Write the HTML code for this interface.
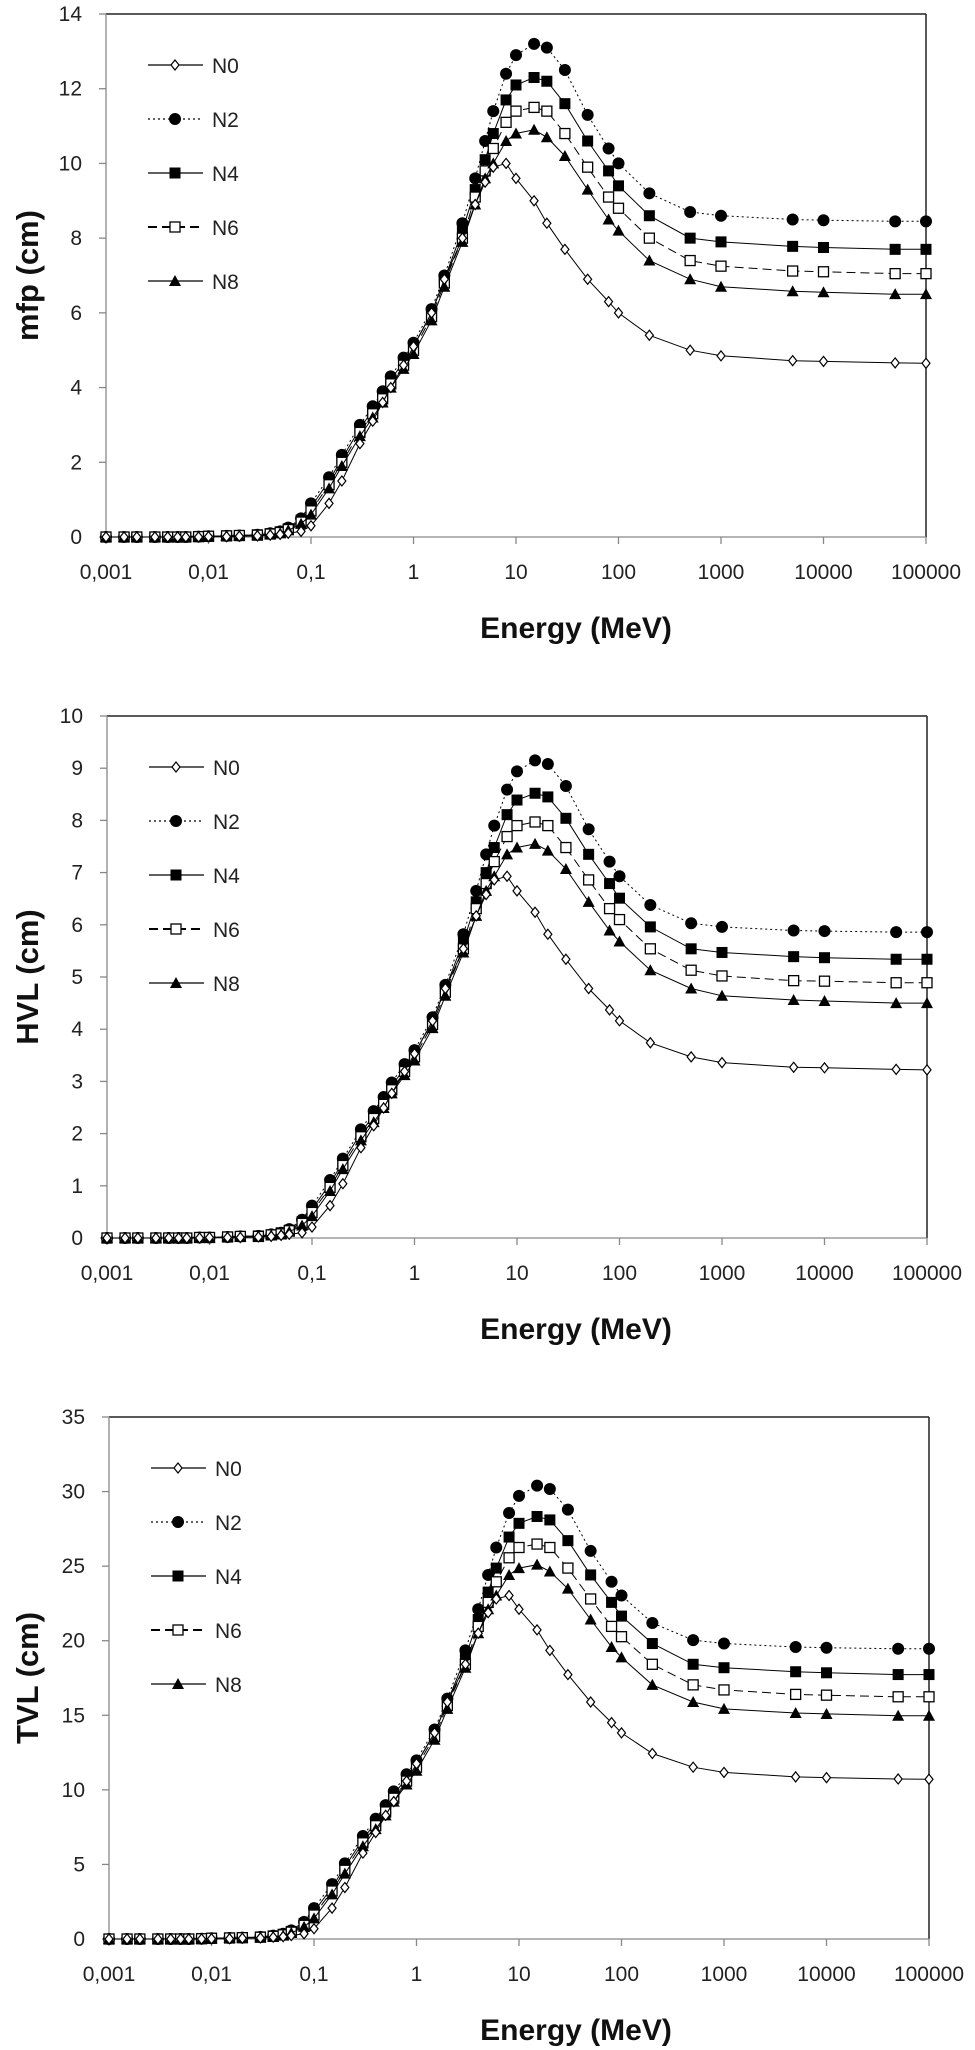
<!DOCTYPE html>
<html>
<head>
<meta charset="utf-8">
<style>
  html, body { margin: 0; padding: 0; background: #fff; }
  body { width: 975px; height: 2050px; overflow: hidden; }
  svg { display: block; font-family: "Liberation Sans", Arial, sans-serif; }
</style>
</head>
<body>
<svg id="fig" width="975" height="2050" viewBox="0 0 975 2050" xmlns="http://www.w3.org/2000/svg"></svg>
<script>
// ---- shared categories ----
const energies = [0.001,0.0015,0.002,0.003,0.004,0.005,0.006,0.008, 0.01,0.015,0.02,0.03,0.04,0.05,0.06,0.08, 0.1,0.15,0.2,0.3,0.4,0.5,0.6,0.8, 1,1.5,2,3,4,5,6,8, 10,15,20,30,50,80, 100,200,500, 1000,5000, 10000,50000,100000];
const xTickLabels = ["0,001","0,01","0,1","1","10","100","1000","10000","100000"];
const xTickValues = [0.001,0.01,0.1,1,10,100,1000,10000,100000];
const seriesNames = ["N0","N2","N4","N6","N8"];

// ---- chart 1: mfp ----
const mfpTicks = [0,2,4,6,8,10,12,14];
const mfpN0 = [0,0,0,0,0,0,0,0, 0.01,0.01,0.02,0.03,0.05,0.07,0.1,0.15, 0.3,0.9,1.5,2.5,3.1,3.6,4.0,4.6, 5.1,6.0,6.9,8.0,8.9,9.5,9.9,10.0, 9.6,9.0,8.4,7.7,6.9,6.3, 6.0,5.4,5.0, 4.85,4.72, 4.7,4.66,4.65];
const mfpN2 = [0,0,0,0,0,0,0,0.01, 0.02,0.03,0.04,0.06,0.1,0.15,0.25,0.5, 0.9,1.6,2.2,3.0,3.5,3.9,4.3,4.8, 5.2,6.1,7.0,8.4,9.6,10.6,11.4,12.4, 12.9,13.2,13.1,12.5,11.3,10.4, 10.0,9.2,8.7, 8.6,8.5, 8.48,8.45,8.45];
const mfpN4 = [0,0,0,0,0,0,0,0.01, 0.02,0.03,0.04,0.06,0.09,0.14,0.22,0.45, 0.8,1.5,2.1,2.9,3.4,3.8,4.2,4.7, 5.1,6.0,6.9,8.2,9.3,10.1,10.8,11.7, 12.1,12.3,12.2,11.6,10.6,9.8, 9.4,8.6,8.0, 7.9,7.78, 7.75,7.7,7.7];
const mfpN6 = [0,0,0,0,0,0,0,0.01, 0.02,0.03,0.04,0.05,0.08,0.12,0.2,0.4, 0.7,1.4,2.0,2.8,3.3,3.7,4.1,4.6, 5.0,5.9,6.8,8.0,9.1,9.8,10.4,11.1, 11.4,11.5,11.4,10.8,9.9,9.1, 8.8,8.0,7.4, 7.25,7.12, 7.1,7.05,7.05];
const mfpN8 = [0,0,0,0,0,0,0,0.01, 0.02,0.03,0.03,0.05,0.07,0.1,0.18,0.35, 0.6,1.3,1.9,2.7,3.2,3.6,4.0,4.5, 4.9,5.8,6.7,7.9,8.9,9.6,10.0,10.6, 10.8,10.9,10.7,10.2,9.3,8.5, 8.2,7.4,6.9, 6.7,6.58, 6.55,6.5,6.5];

// ---- chart 2: HVL ----
const hvlTicks = [0,1,2,3,4,5,6,7,8,9,10];
const hvlN0 = [0,0,0,0,0,0,0,0, 0.01,0.01,0.01,0.02,0.03,0.05,0.07,0.1, 0.21,0.62,1.04,1.73,2.15,2.49,2.77,3.19, 3.53,4.16,4.78,5.54,6.17,6.58,6.86,6.93, 6.65,6.24,5.82,5.34,4.78,4.37, 4.16,3.74,3.47, 3.36,3.27, 3.26,3.23,3.22];
const hvlN2 = [0,0,0,0,0,0,0,0.01, 0.01,0.02,0.03,0.04,0.07,0.1,0.17,0.35, 0.62,1.11,1.52,2.08,2.43,2.70,2.98,3.33, 3.60,4.23,4.85,5.82,6.65,7.35,7.90,8.59, 8.94,9.15,9.08,8.66,7.83,7.21, 6.93,6.38,6.03, 5.96,5.89, 5.88,5.86,5.86];
const hvlN4 = [0,0,0,0,0,0,0,0.01, 0.01,0.02,0.03,0.04,0.06,0.1,0.15,0.31, 0.55,1.04,1.46,2.01,2.36,2.63,2.91,3.26, 3.53,4.16,4.78,5.68,6.44,7.0,7.48,8.11, 8.39,8.52,8.45,8.04,7.35,6.79, 6.51,5.96,5.54, 5.47,5.39, 5.37,5.34,5.34];
const hvlN6 = [0,0,0,0,0,0,0,0.01, 0.01,0.02,0.03,0.03,0.06,0.08,0.14,0.28, 0.49,0.97,1.39,1.94,2.29,2.56,2.84,3.19, 3.47,4.09,4.71,5.54,6.31,6.79,7.21,7.69, 7.90,7.97,7.90,7.48,6.86,6.31, 6.1,5.54,5.13, 5.02,4.93, 4.92,4.89,4.89];
const hvlN8 = [0,0,0,0,0,0,0,0.01, 0.01,0.02,0.02,0.03,0.05,0.07,0.12,0.24, 0.42,0.9,1.32,1.87,2.22,2.49,2.77,3.12, 3.4,4.02,4.64,5.47,6.17,6.65,6.93,7.35, 7.48,7.55,7.42,7.07,6.44,5.89, 5.68,5.13,4.78, 4.64,4.56, 4.54,4.5,4.5];

// ---- chart 3: TVL ----
const tvlTicks = [0,5,10,15,20,25,30,35];
const tvlN0 = [0,0,0,0,0,0,0,0, 0.02,0.02,0.05,0.07,0.12,0.16,0.23,0.35, 0.69,2.07,3.45,5.76,7.14,8.29,9.21,10.59, 11.75,13.82,15.89,18.42,20.5,21.88,22.8,23.03, 22.11,20.73,19.35,17.73,15.89,14.51, 13.82,12.44,11.52, 11.17,10.87, 10.82,10.73,10.71];
const tvlN2 = [0,0,0,0,0,0,0,0.02, 0.05,0.07,0.09,0.14,0.23,0.35,0.58,1.15, 2.07,3.68,5.07,6.91,8.06,8.98,9.9,11.05, 11.98,14.05,16.12,19.35,22.11,24.41,26.25,28.56, 29.71,30.4,30.17,28.79,26.02,23.95, 23.03,21.19,20.04, 19.81,19.58, 19.53,19.46,19.46];
const tvlN4 = [0,0,0,0,0,0,0,0.02, 0.05,0.07,0.09,0.14,0.21,0.32,0.51,1.04, 1.84,3.45,4.84,6.68,7.83,8.75,9.67,10.82, 11.75,13.82,15.89,18.88,21.42,23.26,24.87,26.95, 27.87,28.33,28.1,26.71,24.41,22.57, 21.65,19.81,18.42, 18.19,17.92, 17.85,17.73,17.73];
const tvlN6 = [0,0,0,0,0,0,0,0.02, 0.05,0.07,0.09,0.12,0.18,0.28,0.46,0.92, 1.61,3.22,4.61,6.45,7.6,8.52,9.44,10.59, 11.52,13.59,15.66,18.42,20.96,22.57,23.95,25.56, 26.25,26.48,26.25,24.87,22.8,20.96, 20.27,18.42,17.04, 16.7,16.4, 16.35,16.24,16.24];
const tvlN8 = [0,0,0,0,0,0,0,0.02, 0.05,0.07,0.07,0.12,0.16,0.23,0.41,0.81, 1.38,2.99,4.38,6.22,7.37,8.29,9.21,10.36, 11.28,13.36,15.43,18.19,20.5,22.11,23.03,24.41, 24.87,25.1,24.64,23.49,21.42,19.58, 18.88,17.04,15.89, 15.43,15.15, 15.09,14.97,14.97];

const NS = "http://www.w3.org/2000/svg";
const fig = document.getElementById("fig");
function mk(tag, attrs, parent) {
  const e = document.createElementNS(NS, tag);
  for (const k in attrs) e.setAttribute(k, attrs[k]);
  (parent || fig).appendChild(e);
  return e;
}
const styles = {
  N0: { dash: "none", marker: "diamond" },
  N2: { dash: "2,3", marker: "circle" },
  N4: { dash: "none", marker: "square" },
  N6: { dash: "9,5", marker: "osquare" },
  N8: { dash: "none", marker: "triangle" }
};
function drawMarker(g, type, x, y) {
  let m;
  if (type === "diamond") m = mk("path", { d: `M${x},${y-5}L${x+4},${y}L${x},${y+5}L${x-4},${y}Z`, fill: "#fff", stroke: "#000", "stroke-width": 1.2 }, g);
  else if (type === "circle") m = mk("circle", { cx: x, cy: y, r: 6, fill: "#000" }, g);
  else if (type === "square") m = mk("rect", { x: x-5.5, y: y-5.5, width: 11, height: 11, fill: "#000" }, g);
  else if (type === "osquare") m = mk("rect", { x: x-5, y: y-5, width: 10, height: 10, fill: "#fff", stroke: "#000", "stroke-width": 1.3 }, g);
  else m = mk("path", { d: `M${x},${y-6}L${x+6},${y+5}L${x-6},${y+5}Z`, fill: "#000" }, g);
  
  
}

function drawChart(id, left, top, right, zero, yMax, yTicks, yTitle, series) {
  const g = mk("g", {});
  
  
  const xScale = v => left + (Math.log10(v) + 3) / 8 * (right - left);
  const yScale = v => zero - v / yMax * (zero - top);

  // frame
  const fr = mk("g", {}, g);
  
  
  mk("line", { x1: left, y1: top, x2: right, y2: top, stroke: "#222", "stroke-width": 1.5 }, fr);
  mk("line", { x1: right, y1: top, x2: right, y2: zero, stroke: "#222", "stroke-width": 1.5 }, fr);
  const ya = mk("line", { x1: left, y1: top, x2: left, y2: zero, stroke: "#888", "stroke-width": 1.3 }, g);
  
  
  const xa = mk("line", { x1: left, y1: zero, x2: right, y2: zero, stroke: "#888", "stroke-width": 1.3 }, g);
  
  

  // y ticks
  yTicks.forEach(t => {
    const y = yScale(t);
    mk("line", { x1: left - 7, y1: y, x2: left, y2: y, stroke: "#888", "stroke-width": 1.3 }, g);
    const tx = mk("text", { x: left - 24, y: y + 7, "text-anchor": "end", "font-size": 21, fill: "#222" }, g);
    tx.textContent = t;
    
    
  });
  // x ticks
  xTickValues.forEach((v, i) => {
    const x = xScale(v);
    mk("line", { x1: x, y1: zero, x2: x, y2: zero + 7, stroke: "#888", "stroke-width": 1.3 }, g);
    const tx = mk("text", { x: x, y: zero + 42, "text-anchor": "middle", "font-size": 21, fill: "#222" }, g);
    tx.textContent = xTickLabels[i];
    
    
  });
  // titles
  const xt = mk("text", { x: 576, y: zero + 101, "text-anchor": "middle", "font-size": 30, "font-weight": "bold", fill: "#111" }, g);
  xt.textContent = "Energy (MeV)";
  
  
  const cy = (top + zero) / 2;
  const yt = mk("text", { x: 0, y: 0, transform: `translate(38,${cy}) rotate(-90)`, "text-anchor": "middle", "font-size": 31, "font-weight": "bold", fill: "#111" }, g);
  yt.textContent = yTitle;
  
  

  // series (N0 drawn last so it sits on top)
  const order = [1, 2, 3, 4, 0];
  order.forEach(si => {
    const name = seriesNames[si];
    const vals = series[si];
    const sg = mk("g", {}, g);
    
    
    const pts = energies.map((e, i) => xScale(e).toFixed(1) + "," + yScale(vals[i]).toFixed(1)).join(" ");
    const pl = mk("polyline", { points: pts, fill: "none", stroke: "#000", "stroke-width": 1, "stroke-dasharray": styles[name].dash }, sg);
    
    
    energies.forEach((e, i) => drawMarker(sg, styles[name].marker, xScale(e), yScale(vals[i])));
  });

  // legend
  const lg = mk("g", {}, g);
  
  
  seriesNames.forEach((name, i) => {
    const y = top + 51 + i * 54;
    const eg = mk("g", {}, lg);
    
    
    mk("line", { x1: left + 42, y1: y, x2: left + 97, y2: y, stroke: "#000", "stroke-width": name === "N6" ? 2 : 1.3, "stroke-dasharray": styles[name].dash }, eg);
    drawMarker(eg, styles[name].marker, left + 69, y);
    const tx = mk("text", { x: left + 106, y: y + 8, "font-size": 21, fill: "#222" }, eg);
    tx.textContent = name;
  });
}

drawChart("mfp-chart", 106, 14, 926, 537, 14, mfpTicks, "mfp (cm)", [mfpN0, mfpN2, mfpN4, mfpN6, mfpN8]);
drawChart("hvl-chart", 107, 716, 927, 1238, 10, hvlTicks, "HVL (cm)", [hvlN0, hvlN2, hvlN4, hvlN6, hvlN8]);
drawChart("tvl-chart", 109, 1417, 929, 1939, 35, tvlTicks, "TVL (cm)", [tvlN0, tvlN2, tvlN4, tvlN6, tvlN8]);
</script>
</body>
</html>
